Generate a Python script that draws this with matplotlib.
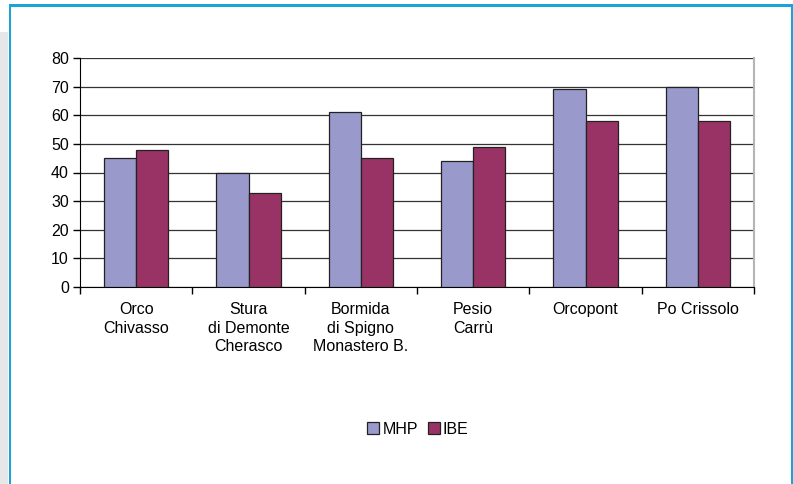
import matplotlib
matplotlib.use("Agg")
import matplotlib.pyplot as plt
from matplotlib.patches import Rectangle
import numpy as np

categories = ["Orco\nChivasso", "Stura\ndi Demonte\nCherasco", "Bormida\ndi Spigno\nMonastero B.",
              "Pesio\nCarrù", "Orcopont", "Po Crissolo"]
mhp = [45, 40, 61, 44, 69, 70]
ibe = [48, 33, 45, 49, 58, 58]
yticks = [0, 10, 20, 30, 40, 50, 60, 70, 80]

plt.rcParams['font.family'] = ['Liberation Sans', 'DejaVu Sans']

fig = plt.figure(figsize=(7.93, 4.84), dpi=100)
W, H = 793, 484
# gray strip and blue frame
fig.patches.append(Rectangle((0, 0), 8 / W, (H - 32) / H, transform=fig.transFigure,
                             facecolor="#e6e7e8", edgecolor="none", zorder=0))
blue = "#1aa3d9"
fig.patches.append(Rectangle((8.5 / W, 0), 2.5 / W, (H - 4) / H, transform=fig.transFigure,
                             facecolor=blue, edgecolor="none", zorder=1))
fig.patches.append(Rectangle((8.5 / W, (H - 7) / H), (792 - 8.5) / W, 3 / H, transform=fig.transFigure,
                             facecolor=blue, edgecolor="none", zorder=1))
fig.patches.append(Rectangle((790.5 / W, 0), 2.5 / W, (H - 4) / H, transform=fig.transFigure,
                             facecolor=blue, edgecolor="none", zorder=1))

ax = fig.add_axes([80 / W, (H - 287) / H, (754 - 80) / W, (287 - 58) / H])
x = np.arange(len(categories))
bw = 0.285
ax.bar(x - bw / 2, mhp, bw, color="#9999cc", edgecolor="#222222", linewidth=0.9, label="MHP", zorder=3)
ax.bar(x + bw / 2, ibe, bw, color="#993366", edgecolor="#222222", linewidth=0.9, label="IBE", zorder=3)

ax.set_xlim(-0.5, len(categories) - 0.5)
ax.set_ylim(0, 80)
ax.set_yticks(yticks)
ax.tick_params(axis='y', labelsize=11.5, length=5, width=1, direction='out', pad=3)
ax.yaxis.grid(True, color="#333333", linewidth=0.9, zorder=0)
ax.set_axisbelow(True)

ax.set_xticks(x)
ax.set_xticklabels(categories, fontsize=11.5, linespacing=1.3)
ax.tick_params(axis='x', length=0, pad=11)
ax.set_xticks(np.arange(-0.5, len(categories)), minor=True)
ax.tick_params(axis='x', which='minor', length=5, width=1, direction='out')

ax.spines["top"].set_visible(False)
ax.spines["right"].set_color("#b5b5b5")
ax.spines["right"].set_linewidth(1.5)
ax.spines["left"].set_color("black")
ax.spines["bottom"].set_color("black")

fig.legend(loc="center", bbox_to_anchor=(418 / W, (H - 429) / H), ncol=2, frameon=False,
           fontsize=11.5, handlelength=0.75, handleheight=0.75, handletextpad=0.2,
           columnspacing=0.6, borderaxespad=0)

fig.savefig("out.png", dpi=100, facecolor="white")
